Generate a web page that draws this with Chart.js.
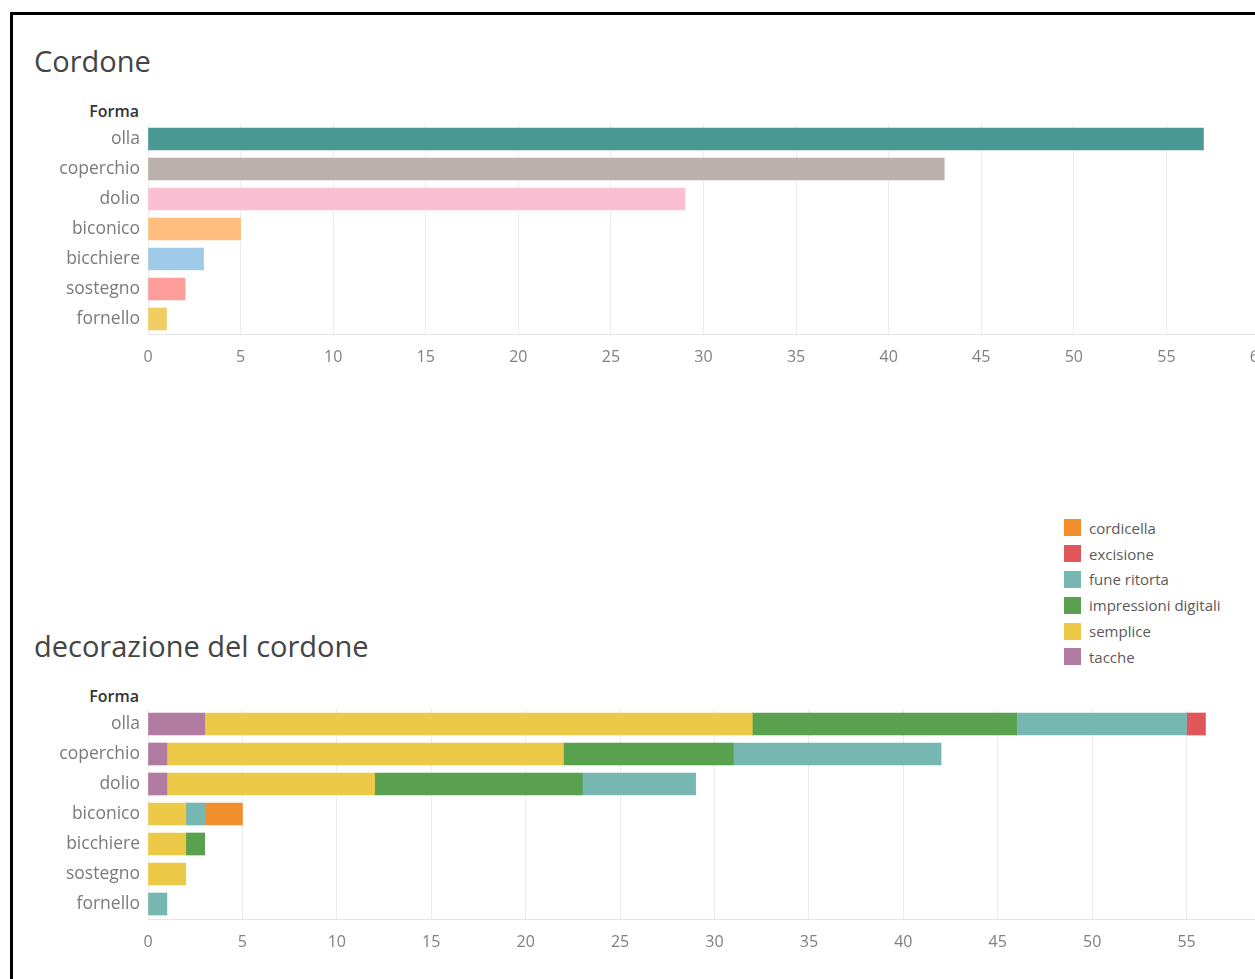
<!DOCTYPE html>
<html lang="it">
<head>
<meta charset="utf-8">
<title>Cordone</title>
<script src="https://cdn.jsdelivr.net/npm/chart.js@4.4.1/dist/chart.umd.min.js"></script>
<style>
  html, body { margin: 0; padding: 0; background: #fff; }
  body { width: 1255px; height: 979px; overflow: hidden; position: relative; font-family: "Open Sans", "DejaVu Sans", sans-serif; }
  .frame { position: absolute; left: 10px; top: 12px; width: 1300px; height: 1000px; border-left: 3px solid #000; border-top: 3px solid #000; }
  .title { position: absolute; left: 34px; font-size: 29px; line-height: 29px; color: #444; white-space: nowrap; }
  .header { position: absolute; right: calc(1255px - 139px); font-size: 16px; line-height: 16px; font-weight: 600; color: #333; }
  canvas { position: absolute; left: 0; }
  #legenda { position: absolute; left: 1064px; top: 515px; }
  .voce { display: flex; align-items: center; height: 25.8px; font-size: 15px; color: #5a5a5a; white-space: nowrap; }
  .voce span.q { width: 17px; height: 17px; margin-right: 8px; display: inline-block; }
</style>
</head>
<body>
<div class="frame"></div>

<div class="title" style="top:46px">Cordone</div>
<div class="header" style="top:103px">Forma</div>
<canvas id="cordone" width="1300" height="280" style="top:100px"></canvas>

<div class="title" style="top:631px">decorazione del cordone</div>
<div class="header" style="top:688px">Forma</div>
<canvas id="decorazione" width="1330" height="280" style="top:685px"></canvas>

<div id="legenda"></div>

<script>
// Forme ceramiche con cordone
const forme = ['olla', 'coperchio', 'dolio', 'biconico', 'bicchiere', 'sostegno', 'fornello'];
const conteggioForme = [57, 43, 29, 5, 3, 2, 1];
const coloriForme = ['#499894', '#bab0ac', '#fabfd2', '#ffbe7d', '#a0cbe8', '#ff9d9a', '#f1ce63'];

// Decorazione del cordone per forma (stesso ordine di "forme")
const decorazioni = ['cordicella', 'excisione', 'fune ritorta', 'impressioni digitali', 'semplice', 'tacche'];
const coloriDecorazioni = ['#f28e2b', '#e15759', '#76b7b2', '#59a14f', '#edc948', '#b07aa1'];
const cordicella          = [0, 0, 0, 2, 0, 0, 0];
const excisione           = [1, 0, 0, 0, 0, 0, 0];
const funeRitorta         = [9, 11, 6, 1, 0, 0, 1];
const impressioniDigitali = [14, 9, 11, 0, 1, 0, 0];
const semplice            = [29, 21, 11, 2, 2, 2, 0];
const tacche              = [3, 1, 1, 0, 0, 0, 0];

const tickValori = [0, 5, 10, 15, 20, 25, 30, 35, 40, 45, 50, 55, 60];

const FONT = '"Open Sans", "DejaVu Sans", sans-serif';

function opzioniAssi(stacked, paddingRight) {
  return {
    responsive: false,
    animation: false,
    devicePixelRatio: 1,
    indexAxis: 'y',
    layout: { padding: { top: 24, right: paddingRight, bottom: 0, left: 0 } },
    plugins: { legend: { display: false }, tooltip: { enabled: false } },
    scales: {
      x: {
        stacked: stacked,
        min: 0,
        max: 60,
        afterBuildTicks: (s) => { s.ticks = tickValori.map(v => ({ value: v })); },
        afterFit: (s) => { s.height = 46; },
        grid: { color: '#ececec', lineWidth: 1, drawTicks: false },
        border: { display: true, color: '#e4e4e4' },
        ticks: { padding: 14, color: '#808080', font: { family: FONT, size: 16 } }
      },
      y: {
        stacked: stacked,
        afterFit: (s) => { s.width = 148; },
        grid: { display: false, drawTicks: false },
        border: { display: false },
        ticks: { padding: 8, color: '#7a7a7a', font: { family: FONT, size: 17.5 } }
      }
    }
  };
}

new Chart(document.getElementById('cordone'), {
  type: 'bar',
  data: {
    labels: forme,
    datasets: [{
      data: conteggioForme,
      backgroundColor: coloriForme,
      borderWidth: 0,
      barThickness: 22
    }]
  },
  options: opzioniAssi(false, 41)
});

// Segmenti da sinistra a destra: tacche, semplice, impressioni digitali, fune ritorta, excisione, cordicella
const serie = [
  ['tacche', tacche],
  ['semplice', semplice],
  ['impressioni digitali', impressioniDigitali],
  ['fune ritorta', funeRitorta],
  ['excisione', excisione],
  ['cordicella', cordicella]
];

new Chart(document.getElementById('decorazione'), {
  type: 'bar',
  data: {
    labels: forme,
    datasets: serie.map(([nome, valori]) => ({
      label: nome,
      data: valori.map(v => (v === 0 ? null : v)),
      backgroundColor: coloriDecorazioni[decorazioni.indexOf(nome)],
      borderWidth: 0,
      barThickness: 22
    }))
  },
  options: opzioniAssi(true, 49)
});

// Legenda colori della decorazione
const legenda = document.getElementById('legenda');
decorazioni.forEach((nome, i) => {
  const riga = document.createElement('div');
  riga.className = 'voce';
  const q = document.createElement('span');
  q.className = 'q';
  q.style.background = coloriDecorazioni[i];
  riga.appendChild(q);
  riga.appendChild(document.createTextNode(nome));
  legenda.appendChild(riga);
});
</script>
</body>
</html>
